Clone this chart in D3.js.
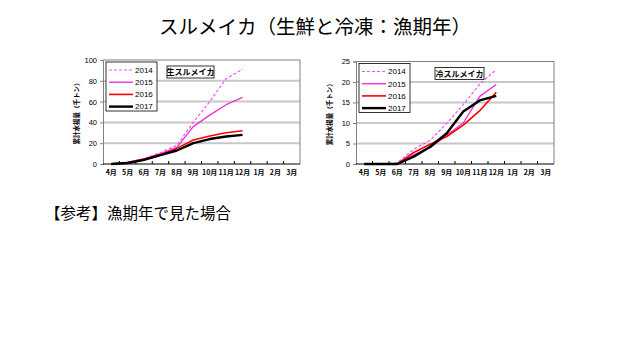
<!DOCTYPE html>
<html><head><meta charset="utf-8">
<script src="https://cdn.jsdelivr.net/npm/d3@7"></script>
<style>body{margin:0;background:#fff}svg{display:block}</style>
</head><body>
<svg id="c" width="640" height="360"></svg>
<script>
const months = ["4月","5月","6月","7月","8月","9月","10月","11月","12月","1月","2月","3月"];
const years = ["2014","2015","2016","2017"];
const fresh2014 = [0,2,5,11,18,40,60,82,91];
const fresh2015 = [0,1.5,5,10,16,36,47,57,64];
const fresh2016 = [0,1,4.5,9,15,23,27,30,32];
const fresh2017 = [0,1,4,8.5,13,20,24,26.5,28];
const frozen2014 = [0,0,0.3,3.6,5.8,9.9,14.5,19.5,23];
const frozen2015 = [0,0,0,2.2,4,7,10,16.5,19.4];
const frozen2016 = [0,0,0,2.8,4.8,6.7,9.5,13,17.5];
const frozen2017 = [0,0,0,1.8,4.2,7.5,12.8,15.5,16.6];
const freshTicks = [0,20,40,60,80,100];
const frozenTicks = [0,5,10,15,20,25];

const styles = {
  "2014": {color:"#ee55ee", width:1.2, dash:"3,2"},
  "2015": {color:"#ee33dd", width:1.4, dash:null},
  "2016": {color:"#ff0000", width:1.6, dash:null},
  "2017": {color:"#000000", width:2.4, dash:null}
};
const font = "'Noto Sans CJK JP', sans-serif";
const svg = d3.select("#c");

svg.append("text").attr("x",315).attr("y",34).attr("text-anchor","middle")
  .attr("font-family",font).attr("font-size",19.5).text("スルメイカ（生鮮と冷凍：漁期年）");
svg.append("text").attr("x",45).attr("y",219)
  .attr("font-family",font).attr("font-size",15.5).text("【参考】漁期年で見た場合");

function chart(o){
  const g = svg.append("g");
  const x = d3.scaleBand().domain(months).range([o.x0,o.x1]);
  const y = d3.scaleLinear().domain([0,o.max]).range([o.y1,o.y0]);
  g.selectAll(".grid").data(o.ticks.slice(1,-1)).join("line")
    .attr("x1",o.x0).attr("x2",o.x1).attr("y1",d=>y(d)).attr("y2",d=>y(d))
    .attr("stroke","#c8c8c8").attr("stroke-width",2);
  g.append("path").attr("d",`M${o.x0},${y(o.max)}H${o.x1}V${o.y1}`)
    .attr("fill","none").attr("stroke","#808080").attr("stroke-width",1);
  const ya = g.append("g").attr("transform",`translate(${o.x0},0)`)
    .call(d3.axisLeft(y).tickValues(o.ticks).tickSize(3).tickPadding(3));
  ya.select(".domain").attr("stroke","#808080");
  ya.selectAll(".tick line").attr("stroke","#808080");
  ya.selectAll("text").attr("font-family","Liberation Sans, Arial, sans-serif").attr("font-size",7.5);
  const xa = g.append("g").attr("transform",`translate(0,${o.y1})`)
    .call(d3.axisBottom(x).tickSize(0).tickPadding(6));
  xa.select(".domain").remove();
  xa.selectAll("text").attr("font-family",font).attr("font-size",7).attr("font-weight","bold");
  g.append("line").attr("x1",o.x0).attr("x2",o.x1).attr("y1",o.y1).attr("y2",o.y1)
    .attr("stroke","#000").attr("stroke-width",1);
  g.selectAll(".xt").data(months.slice(1)).join("line")
    .attr("x1",d=>x(d)).attr("x2",d=>x(d)).attr("y1",o.y1).attr("y2",o.y1-3)
    .attr("stroke","#000");
  g.append("text").attr("transform",`translate(${o.x0-24},${(o.y0+o.y1)/2}) rotate(-90)`)
    .attr("text-anchor","middle").attr("font-family",font).attr("font-size",6.5).attr("font-weight","bold")
    .text("累計水揚量（千トン）");
  const line = d3.line().x((d,i)=>x(months[i])+x.bandwidth()/2).y(d=>y(d));
  years.forEach((yr,k)=>{
    const s = styles[yr];
    g.append("path").datum(o.series[k]).attr("d",line).attr("fill","none")
      .attr("stroke",s.color).attr("stroke-width",s.width)
      .attr("stroke-dasharray",s.dash).attr("stroke-linejoin","round");
  });
  const lx = o.x0+3, ly = o.y0+2;
  g.append("rect").attr("x",lx).attr("y",ly).attr("width",51).attr("height",49)
    .attr("fill","#fff").attr("stroke","#000").attr("stroke-width",0.8);
  years.forEach((yr,k)=>{
    const s = styles[yr], yy = ly+8+k*12.2;
    g.append("line").attr("x1",lx+3).attr("x2",lx+27).attr("y1",yy).attr("y2",yy)
      .attr("stroke",s.color).attr("stroke-width",s.width).attr("stroke-dasharray",s.dash);
    g.append("text").attr("x",lx+29).attr("y",yy+2.8).attr("font-family","Liberation Sans, Arial, sans-serif")
      .attr("font-size",8).text(yr);
  });
  g.append("rect").attr("x",o.tx).attr("y",o.y0+6).attr("width",o.tw).attr("height",12)
    .attr("fill","#fff").attr("stroke","#000").attr("stroke-width",0.8);
  g.append("text").attr("x",o.tx+o.tw/2).attr("y",o.y0+15).attr("text-anchor","middle")
    .attr("font-family",font).attr("font-size",8).attr("font-weight","bold").text(o.title);
}

chart({x0:103,x1:300,y0:60,y1:164,max:100,ticks:freshTicks,
  series:[fresh2014,fresh2015,fresh2016,fresh2017],title:"生スルメイカ",tx:167,tw:47});
chart({x0:356,x1:554,y0:61.5,y1:164,max:25,ticks:frozenTicks,
  series:[frozen2014,frozen2015,frozen2016,frozen2017],title:"冷スルメイカ",tx:435,tw:49});
</script>
</body></html>
